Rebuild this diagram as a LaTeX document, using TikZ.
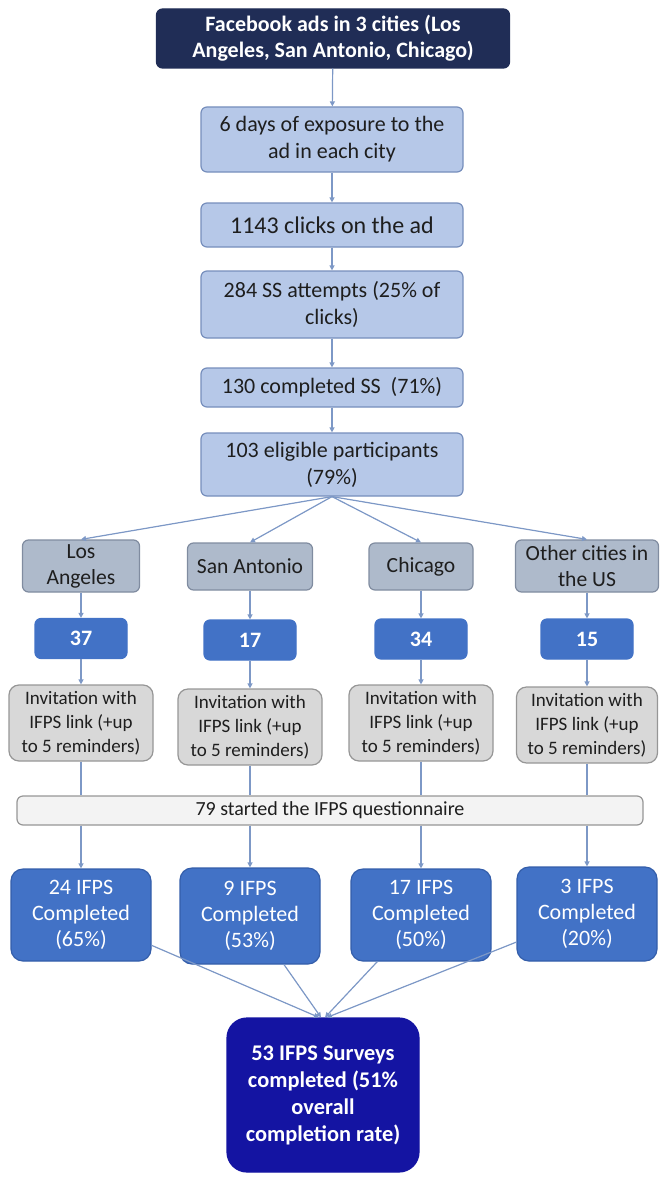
\documentclass[tikz,border=0pt]{standalone}
\usepackage{fontspec}
\setmainfont{Carlito}
\usetikzlibrary{arrows.meta, positioning}
\definecolor{adnavy}{RGB}{32,45,86}
\definecolor{paleblue}{RGB}{182,200,232}
\definecolor{paleedge}{RGB}{118,142,188}
\definecolor{citygray}{RGB}{174,186,203}
\definecolor{cityedge}{RGB}{128,140,160}
\definecolor{midblue}{RGB}{66,114,198}
\definecolor{midedge}{RGB}{52,94,170}
\definecolor{invgray}{RGB}{216,216,216}
\definecolor{invedge}{RGB}{150,150,150}
\definecolor{bargray}{RGB}{243,243,243}
\definecolor{deepblue}{RGB}{20,20,162}
\definecolor{flowblue}{RGB}{125,152,198}
\definecolor{inktext}{RGB}{30,30,30}

\begin{document}
\begin{tikzpicture}[x=0.5pt, y=-0.5pt,
  box/.style={rectangle, rounded corners=3pt, align=center, inner sep=1pt,
              draw, line width=0.6pt},
  topbox/.style={box, fill=adnavy, draw=adnavy, text=white,
                 font=\fontsize{11}{13}\selectfont\bfseries,
                 minimum width=176.5pt, minimum height=29.5pt},
  stage/.style={box, fill=paleblue, draw=paleedge, text=inktext,
                font=\fontsize{11}{13.5}\selectfont, minimum width=131pt},
  city/.style={box, fill=citygray, draw=cityedge, text=inktext,
               font=\fontsize{10.8}{13}\selectfont},
  count/.style={box, fill=midblue, draw=midblue, text=white,
                font=\fontsize{11}{13}\selectfont\bfseries,
                minimum width=46pt, minimum height=20pt},
  invite/.style={box, rounded corners=5pt, fill=invgray, draw=invedge,
                 text=inktext, font=\fontsize{9.5}{12}\selectfont,
                 minimum width=72pt, minimum height=38pt},
  startbar/.style={box, fill=bargray, draw=invedge, text=inktext,
                   font=\fontsize{10}{12}\selectfont,
                   minimum width=313pt, minimum height=14.5pt},
  done/.style={box, rounded corners=6pt, fill=midblue, draw=midedge,
               text=white, font=\fontsize{11}{13}\selectfont,
               minimum width=70pt, minimum height=46pt},
  total/.style={box, rounded corners=10pt, fill=deepblue, draw=deepblue,
                text=white, font=\fontsize{11.2}{13.5}\selectfont\bfseries,
                minimum width=96pt, minimum height=77pt},
  flow/.style={-{Triangle[length=2.5pt, width=2.5pt]}, draw=flowblue,
               fill=flowblue, line width=0.6pt},
  link/.style={draw=flowblue, line width=0.6pt}]
  \useasboundingbox (0,0) rectangle (660,1177);

  % Recruitment funnel
  \node[topbox] (ads) at (333,38.5) {Facebook ads in 3 cities (Los\\Angeles, San Antonio, Chicago)};
  \node[stage, minimum height=32.5pt] (days) at (332,139.5) {6 days of exposure to the\\ad in each city};
  \node[stage, minimum height=22pt, font=\fontsize{12}{14}\selectfont] (clicks) at (332,225) {1143 clicks on the ad};
  \node[stage, minimum height=33.5pt] (tries) at (332,304.5) {284 SS attempts (25\% of\\clicks)};
  \node[stage, minimum height=19.5pt] (screened) at (332,387.5) {130 completed SS\ \ (71\%)};
  \node[stage, minimum height=31.5pt] (eligible) at (332,464.5) {103 eligible participants\\(79\%)};

  % Cities
  \node[city, minimum width=58.5pt, minimum height=26pt] (la) at (81,566) {Los\\Angeles};
  \node[city, minimum width=62.5pt, minimum height=23.5pt] (sa) at (250,566.5) {San Antonio};
  \node[city, minimum width=52pt, minimum height=23.5pt] (chi) at (421,566.5) {Chicago};
  \node[city, minimum width=71.5pt, minimum height=26pt] (oth) at (587,566) {Other cities in\\the US};

  % Participants per city
  \node[count] (nla) at (81,638.5) {37};
  \node[count] (nsa) at (250,640) {17};
  \node[count] (nchi) at (421,639) {34};
  \node[count] (noth) at (587,639) {15};

  % Invitations
  \node[invite] (ila) at (81,723) {Invitation with\\IFPS link (+up\\to 5 reminders)};
  \node[invite] (isa) at (250,727) {Invitation with\\IFPS link (+up\\to 5 reminders)};
  \node[invite] (ichi) at (421,723) {Invitation with\\IFPS link (+up\\to 5 reminders)};
  \node[invite, minimum width=70.5pt] (ioth) at (587,725) {Invitation with\\IFPS link (+up\\to 5 reminders)};

  \node[startbar] (started) at (330,810.5) {79 started the IFPS questionnaire};

  % Completed per city
  \node[done] (dla) at (81,915) {24 IFPS\\Completed\\(65\%)};
  \node[done, minimum height=48pt] (dsa) at (250,916) {9 IFPS\\Completed\\(53\%)};
  \node[done] (dchi) at (421,915) {17 IFPS\\Completed\\(50\%)};
  \node[done, minimum height=47pt] (doth) at (587,914) {3 IFPS\\Completed\\(20\%)};

  \node[total] (overall) at (323,1095) {53 IFPS Surveys\\completed (51\%\\overall\\completion rate)};

  % Funnel arrows
  \draw[flow] (ads) -- (days);
  \draw[flow] (days) -- (clicks);
  \draw[flow] (clicks) -- (tries);
  \draw[flow] (tries) -- (screened);
  \draw[flow] (screened) -- (eligible);

  % Split by city
  \draw[flow] (eligible.south) -- (la.north);
  \draw[flow] (eligible.south) -- (sa.north);
  \draw[flow] (eligible.south) -- (chi.north);
  \draw[flow] (eligible.south) -- (oth.north);

  \draw[flow] (la) -- (nla);
  \draw[flow] (sa) -- (nsa);
  \draw[flow] (chi) -- (nchi);
  \draw[flow] (oth) -- (noth);

  \draw[flow] (nla) -- (ila);
  \draw[flow] (nsa) -- (isa);
  \draw[flow] (nchi) -- (ichi);
  \draw[flow] (noth) -- (ioth);

  % Through the questionnaire bar
  \draw[link] (ila) -- (ila |- started.north);
  \draw[link] (isa) -- (isa |- started.north);
  \draw[link] (ichi) -- (ichi |- started.north);
  \draw[link] (ioth) -- (ioth |- started.north);
  \draw[flow] (ila |- started.south) -- (dla);
  \draw[flow] (isa |- started.south) -- (dsa);
  \draw[flow] (ichi |- started.south) -- (dchi);
  \draw[flow] (ioth |- started.south) -- (doth);

  % Merge
  \draw[flow] (dla) -- ([xshift=-2pt]overall.north);
  \draw[flow] (dsa) -- ([xshift=-1pt]overall.north);
  \draw[flow] (dchi) -- ([xshift=1pt]overall.north);
  \draw[flow] (doth) -- ([xshift=2pt]overall.north);
\end{tikzpicture}
\end{document}
